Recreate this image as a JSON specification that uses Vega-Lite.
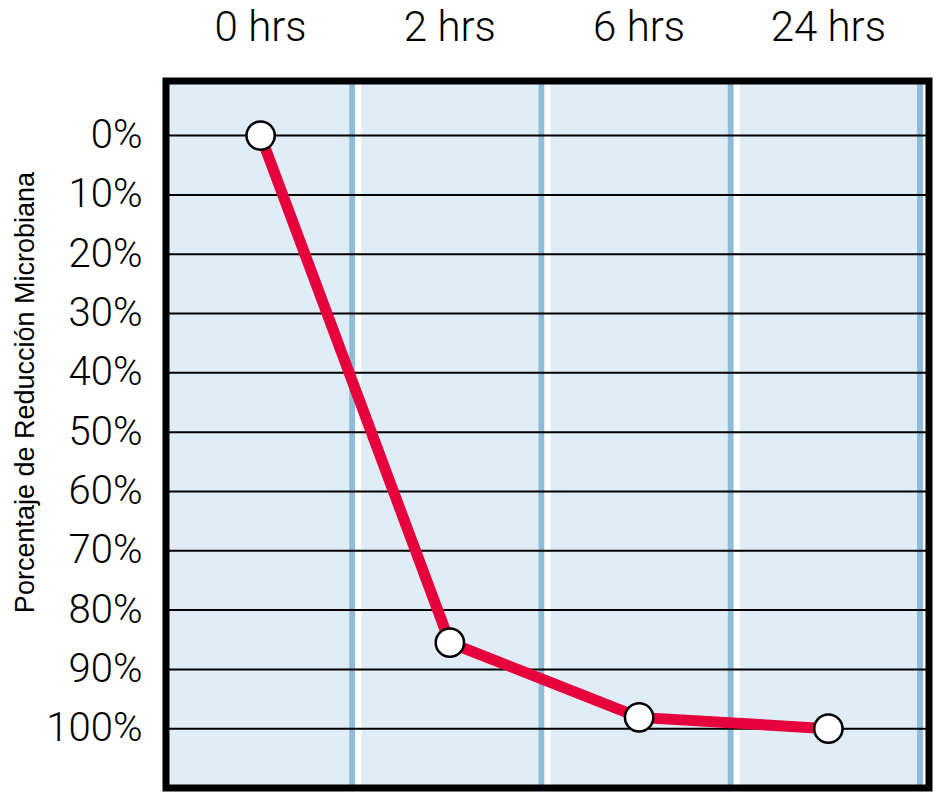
{
  "$schema": "https://vega.github.io/schema/vega-lite/v6.json",
  "width": 757,
  "height": 707,
  "autosize": {"type": "none"},
  "padding": {"left": 166, "top": 81, "right": 15, "bottom": 11},
  "background": "white",
  "view": {"fill": "#e0edf7", "stroke": null},
  "datasets": {
    "series": [
      {"time": "0 hrs", "reduction": 0},
      {"time": "2 hrs", "reduction": 85.5},
      {"time": "6 hrs", "reduction": 98.1},
      {"time": "24 hrs", "reduction": 100}
    ],
    "grid": [
      {"v": 0}, {"v": 10}, {"v": 20}, {"v": 30}, {"v": 40}, {"v": 50},
      {"v": 60}, {"v": 70}, {"v": 80}, {"v": 90}, {"v": 100}
    ]
  },
  "encoding": {
    "x": {
      "field": "time",
      "type": "nominal",
      "sort": ["0 hrs", "2 hrs", "6 hrs", "24 hrs"],
      "scale": {"type": "band", "paddingInner": 0, "paddingOuter": 0, "domain": ["0 hrs", "2 hrs", "6 hrs", "24 hrs"]},
      "axis": {
        "orient": "top",
        "title": null,
        "domain": false,
        "ticks": false,
        "grid": false,
        "labelFont": "Roboto",
        "labelFontWeight": 300,
        "labelFontSize": 42,
        "labelColor": "#000000",
        "labelPadding": 32,
        "labelAngle": 0
      }
    }
  },
  "layer": [
    {
      "data": {"name": "series"},
      "mark": {"type": "rule", "color": "#8fbcda", "strokeWidth": 6, "xOffset": -3},
      "encoding": {
        "x": {"field": "time", "type": "nominal", "bandPosition": 1, "sort": ["0 hrs", "2 hrs", "6 hrs", "24 hrs"]}
      }
    },
    {
      "data": {"name": "series"},
      "mark": {"type": "rule", "color": "#ffffff", "strokeWidth": 6, "xOffset": 3},
      "encoding": {
        "x": {"field": "time", "type": "nominal", "bandPosition": 1, "sort": ["0 hrs", "2 hrs", "6 hrs", "24 hrs"]}
      }
    },
    {
      "data": {"name": "grid"},
      "mark": {"type": "rule", "color": "#000000", "strokeWidth": 2, "x": 0, "x2": {"expr": "width + 6"}},
      "encoding": {
        "x": null,
        "y": {
          "field": "v",
          "type": "quantitative",
          "scale": {"domain": [-9.2, 110], "reverse": true, "nice": false, "zero": false},
          "axis": {
            "title": "Porcentaje de Reducción Microbiana",
            "titleFont": "Liberation Sans",
            "titleFontSize": 27,
            "titleFontWeight": "normal",
            "titleColor": "#000000",
            "titleAngle": -90,
            "titleAlign": "center",
            "titleBaseline": "middle",
            "titleX": -141,
            "titleY": 311,
            "values": [0, 10, 20, 30, 40, 50, 60, 70, 80, 90, 100],
            "labelExpr": "datum.value + '%'",
            "labelFont": "Roboto",
            "labelFontWeight": 300,
            "labelFontSize": 40,
            "labelColor": "#000000",
            "labelPadding": 24,
            "domain": false,
            "ticks": false,
            "grid": false
          }
        }
      }
    },
    {
      "data": {"name": "series"},
      "mark": {"type": "line", "color": "#e6003c", "strokeWidth": 11},
      "encoding": {
        "y": {"field": "reduction", "type": "quantitative"}
      }
    },
    {
      "data": {"name": "series"},
      "mark": {"type": "point", "filled": true, "fill": "#ffffff", "stroke": "#000000", "strokeWidth": 2.5, "size": 800, "opacity": 1},
      "encoding": {
        "y": {"field": "reduction", "type": "quantitative"}
      }
    },
    {
      "data": {"values": [{}]},
      "mark": {"type": "rect", "fill": null, "stroke": "#000000", "strokeWidth": 7, "x": 0, "x2": {"expr": "width + 6"}, "y": 0, "y2": {"expr": "height"}},
      "encoding": {"x": null}
    }
  ]
}
